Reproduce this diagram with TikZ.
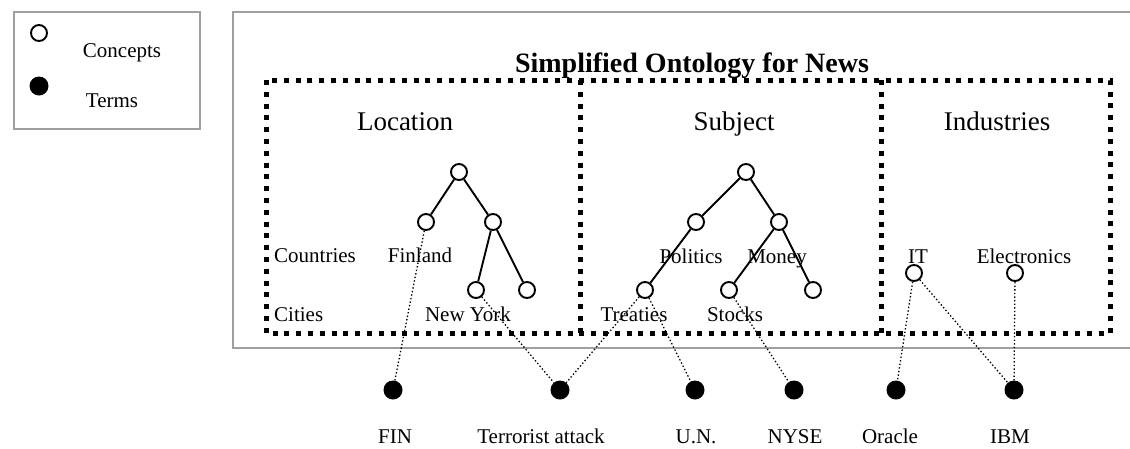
\documentclass[tikz,border=0pt]{standalone}
\usepackage{fontspec}
\setmainfont{Liberation Serif}
\usepackage{tikz}

\begin{document}
\begin{tikzpicture}[x=1pt, y=-1pt,
    concept/.style={circle, draw, line width=1.9pt, minimum size=16pt, inner sep=0pt},
    term/.style={circle, fill=black, minimum size=19pt, inner sep=0pt},
    lbl/.style={font=\fontsize{21}{21}\selectfont, inner sep=0pt, anchor=base},
    head/.style={font=\fontsize{27}{27}\selectfont, inner sep=0pt, anchor=base},
    frame/.style={draw=gray!75, line width=1.3pt},
    group/.style={line width=5pt, dash pattern=on 5pt off 6.8pt},
    tree/.style={line width=1.9pt},
    link/.style={line width=1.3pt, dash pattern=on 1.4pt off 2.2pt}]
            \useasboundingbox (0,0) rectangle (1130,448);

            % Frames
            \draw[frame] (14,12) rectangle (200,129);
            \draw[frame] (1140,12) -- (233,12) -- (233,348) -- (1140,348);
            \draw[group] (266,80) rectangle (1110,333);
            \draw[group] (580,80) -- (580,333);
            \draw[group] (881,80) -- (881,333);

            % Legend
            \node[concept] (k1) at (39,33) {};
            \node[lbl] (k1t) at (122,57) {Concepts};
            \node[term] (k2) at (39,86) {};
            \node[lbl] (k2t) at (112,107) {Terms};

            % Headings
            \node[inner sep=0pt, anchor=base, font=\fontsize{28}{28}\selectfont\bfseries] (title) at (692,72) {Simplified Ontology for News};
            \node[head] (hl) at (405,130) {Location};
            \node[head] (hs) at (734,130) {Subject};
            \node[head] (hi) at (997,130) {Industries};

            % Concept nodes
            \node[concept] (l1) at (459,172) {};
            \node[concept] (l2) at (426,222) {};
            \node[concept] (l3) at (493,222) {};
            \node[concept] (l4) at (476,290) {};
            \node[concept] (l5) at (527,290) {};
            \node[concept] (s1) at (746,172) {};
            \node[concept] (s2) at (696,222) {};
            \node[concept] (s3) at (779,222) {};
            \node[concept] (s4) at (645,290) {};
            \node[concept] (s5) at (729,290) {};
            \node[concept] (s6) at (813,290) {};
            \node[concept] (i1) at (914,273) {};
            \node[concept] (i2) at (1015,273) {};

            % Concept labels
            \node[lbl, anchor=base west] (lc) at (274,262) {Countries};
            \node[lbl, anchor=base west] (lci) at (274,321) {Cities};
            \node[lbl] (l2t) at (420,262) {Finland};
            \node[lbl] (l4t) at (468,321) {New York};
            \node[lbl] (s2t) at (691,263) {Politics};
            \node[lbl] (s3t) at (777,263) {Money};
            \node[lbl] (s4t) at (634,321) {Treaties};
            \node[lbl] (s5t) at (735,321) {Stocks};
            \node[lbl] (i1t) at (918,263) {IT};
            \node[lbl] (i2t) at (1024,263) {Electronics};

            % Term nodes
            \node[term] (t1) at (393,390) {};
            \node[term] (t2) at (560,390) {};
            \node[term] (t3) at (695,390) {};
            \node[term] (t4) at (794,390) {};
            \node[term] (t5) at (896,390) {};
            \node[term] (t6) at (1014,390) {};
            \node[lbl] (t1t) at (395,443) {FIN};
            \node[lbl] (t2t) at (541,443) {Terrorist attack};
            \node[lbl] (t3t) at (696,443) {U.N.};
            \node[lbl] (t4t) at (795,443) {NYSE};
            \node[lbl] (t5t) at (890,443) {Oracle};
            \node[lbl] (t6t) at (1010,443) {IBM};

            % Edges
            \draw[tree] (l1) -- (l2);
            \draw[tree] (l1) -- (l3);
            \draw[tree] (l3) -- (l4);
            \draw[tree] (l3) -- (l5);
            \draw[tree] (s1) -- (s2);
            \draw[tree] (s1) -- (s3);
            \draw[tree] (s2) -- (s4);
            \draw[tree] (s3) -- (s5);
            \draw[tree] (s3) -- (s6);

            % Links to terms
            \draw[link] (l2) -- (t1);
            \draw[link] (l4) -- (t2);
            \draw[link] (s4) -- (t2);
            \draw[link] (s4) -- (t3);
            \draw[link] (s5) -- (t4);
            \draw[link] (i1) -- (t5);
            \draw[link] (i1) -- (t6);
            \draw[link] (i2) -- (t6);
        \end{tikzpicture}
\end{document}
